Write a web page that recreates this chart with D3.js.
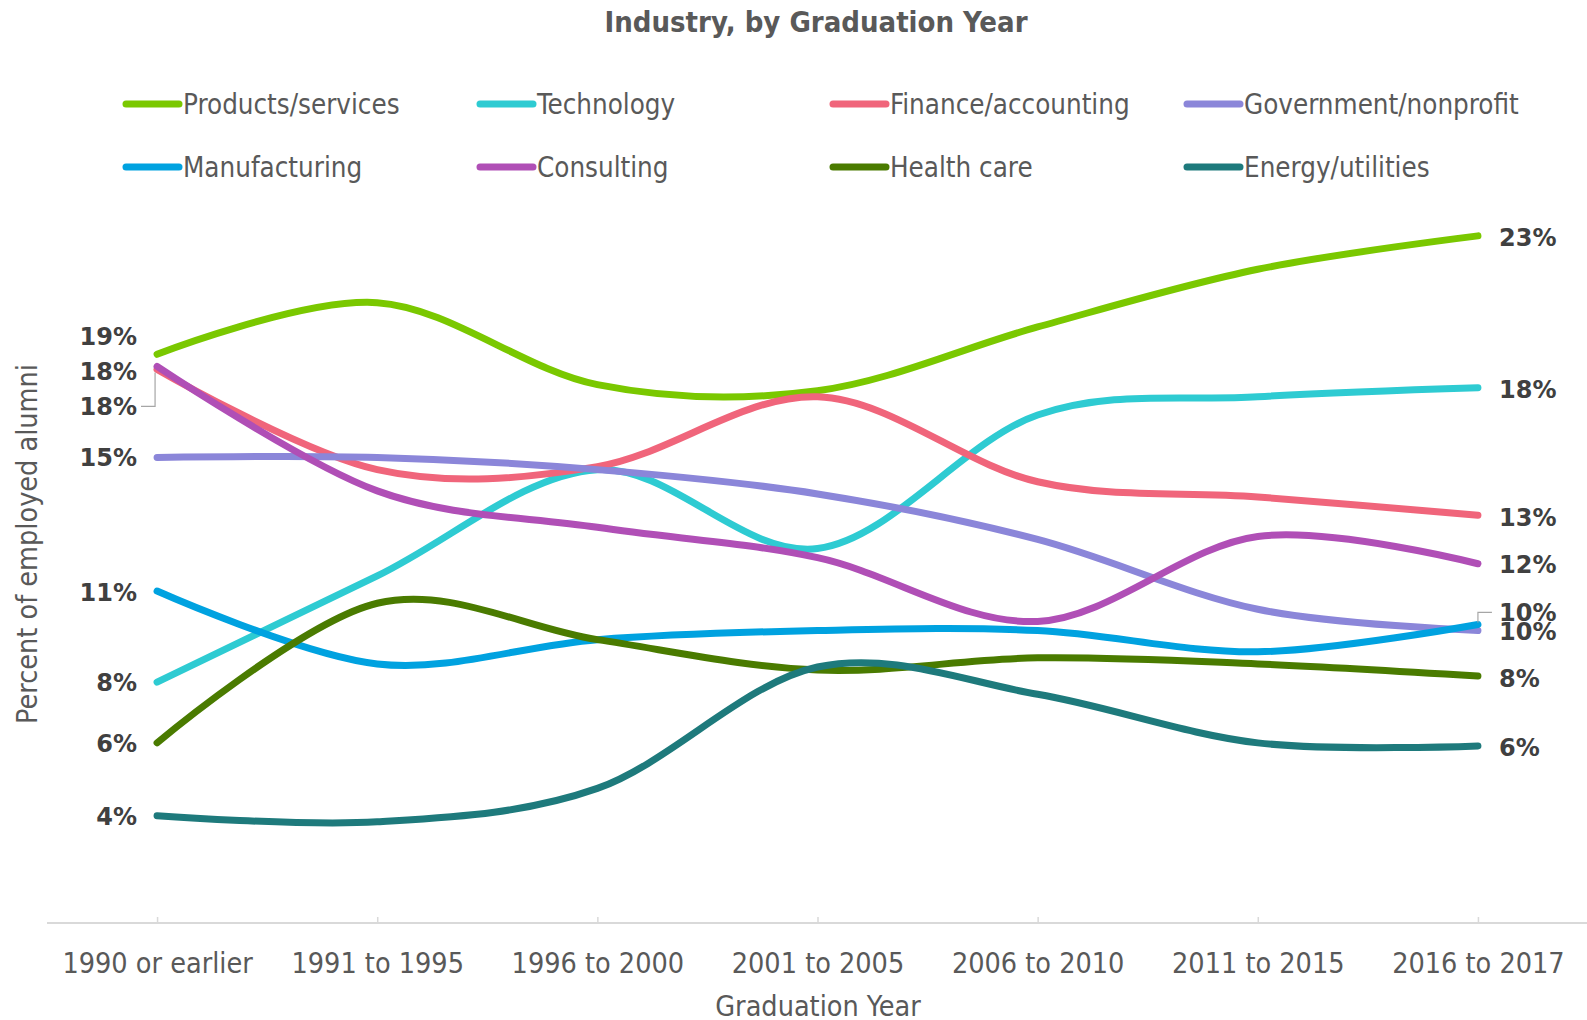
<!DOCTYPE html>
<html>
<head>
<meta charset="utf-8">
<script src="https://cdn.jsdelivr.net/npm/d3@7"></script>
<style>
  body { margin: 0; background: #fff; }
  svg text { font-family: "DejaVu Sans Condensed", "DejaVu Sans", sans-serif; }
</style>
</head>
<body>
<div id="chart"></div>
<script>
// ============================================================================
// DATA
// ============================================================================

const categories = ["1990 or earlier", "1991 to 1995", "1996 to 2000", "2001 to 2005",
                    "2006 to 2010", "2011 to 2015", "2016 to 2017"];

const seriesNames = ["Products/services", "Technology", "Finance/accounting", "Government/nonprofit",
                     "Manufacturing", "Consulting", "Health care", "Energy/utilities"];

const productsValues   = [18.7, 20.4, 17.7, 17.5, 19.6, 21.5, 22.6];
const technologyValues = [7.9, 11.4, 14.9, 12.3, 16.7, 17.3, 17.6];
const financeValues    = [18.2, 14.9, 15.0, 17.3, 14.5, 14.0, 13.4];
const governmentValues = [15.3, 15.3, 14.9, 14.1, 12.6, 10.3, 9.6];
const manufactValues   = [10.9, 8.5, 9.3, 9.6, 9.6, 8.9, 9.8];
const consultingValues = [18.3, 14.2, 13.0, 12.0, 9.9, 12.7, 11.8];
const healthValues     = [5.9, 10.5, 9.3, 8.3, 8.7, 8.5, 8.1];
const energyValues     = [3.5, 3.3, 4.4, 8.4, 7.5, 5.9, 5.8];

const seriesValues = [productsValues, technologyValues, financeValues, governmentValues,
                      manufactValues, consultingValues, healthValues, energyValues];

const colors = ["#7ac800", "#2ecbd2", "#f0657b", "#8b86d9",
                "#00a2e0", "#b04fb6", "#4a7b00", "#1e7a7c"];

// label nudges (px) for the end labels, where Excel moved them apart
//                  prod tech fin  gov  mfg  cons hlth enrg
const leftNudge  = [-18, 0,   37,  0,   1,   5,   0,   1];
const rightNudge = [1,   2,   2,   1,  -12,  1,   2,   1];
const leftLeader  = [false, false, true, false, false, false, false, false];
const rightLeader = [false, false, false, false, true, false, false, false];

const series = seriesNames.map((name, i) => ({
    name,
    color: colors[i],
    values: seriesValues[i].map((v, j) => ({ cat: categories[j], v }))
}));


// ============================================================================
// SETUP
// ============================================================================

const W = 1587, H = 1020;
const axisY = 923;

const svg = d3.select("#chart")
    .append("svg")
    .attr("width", W)
    .attr("height", H);

const x = d3.scalePoint()
    .domain(categories)
    .range([47, 1588])
    .padding(0.5);

const y = d3.scaleLinear()
    .domain([0, 25])
    .range([922, 922 - 25 * 30.36]);

svg.append("text")
    .attr("x", 816)
    .attr("y", 32)
    .attr("text-anchor", "middle")
    .style("font-size", "29px")
    .style("font-weight", "bold")
    .attr("fill", "#595959")
    .text("Industry, by Graduation Year");


// ============================================================================
// LEGEND
// ============================================================================

const legendCols = [123, 477, 830, 1184];
const legendRows = [104, 167];

const legend = svg.append("g").attr("class", "legend");

series.forEach((s, i) => {
    const lx = legendCols[i % 4];
    const ly = legendRows[Math.floor(i / 4)];
    legend.append("line")
        .attr("x1", lx + 3).attr("x2", lx + 56)
        .attr("y1", ly).attr("y2", ly)
        .attr("stroke", s.color)
        .attr("stroke-width", 7)
        .attr("stroke-linecap", "round");
    legend.append("text")
        .attr("x", lx + 60)
        .attr("y", ly)
        .attr("dy", "0.36em")
        .style("font-size", "27.5px")
        .attr("fill", "#595959")
        .text(s.name);
});


// ============================================================================
// AXES
// ============================================================================

const xAxis = svg.append("g")
    .attr("transform", `translate(0,${axisY})`)
    .call(d3.axisBottom(x).tickSize(-6).tickPadding(30));

xAxis.select(".domain").remove();
xAxis.append("line")
    .attr("x1", 47).attr("x2", 1587)
    .attr("stroke", "#d9d9d9")
    .attr("stroke-width", 2);
xAxis.selectAll(".tick line")
    .attr("stroke", "#d9d9d9")
    .attr("stroke-width", 1.5);
xAxis.selectAll(".tick text")
    .style("font-size", "28.5px")
    .style("font-family", "'DejaVu Sans Condensed', 'DejaVu Sans', sans-serif")
    .attr("fill", "#595959");

svg.append("text")
    .attr("x", 818)
    .attr("y", 1006)
    .attr("dy", "0.36em")
    .attr("text-anchor", "middle")
    .style("font-size", "28.5px")
    .attr("fill", "#595959")
    .text("Graduation Year");

svg.append("text")
    .attr("transform", "rotate(-90)")
    .attr("x", -544)
    .attr("y", 27)
    .attr("dy", "0.36em")
    .attr("text-anchor", "middle")
    .style("font-size", "28.5px")
    .attr("fill", "#595959")
    .text("Percent of employed alumni");


// ============================================================================
// LINES
// ============================================================================

const line = d3.line()
    .x(d => x(d.cat))
    .y(d => y(d.v))
    .curve(d3.curveCardinal.tension(0));

svg.append("g")
    .selectAll("path.series")
    .data(series)
    .join("path")
    .attr("class", "series")
    .attr("d", d => line(d.values))
    .attr("fill", "none")
    .attr("stroke", d => d.color)
    .attr("stroke-width", 7)
    .attr("stroke-linecap", "round")
    .attr("stroke-linejoin", "round");


// ============================================================================
// END LABELS
// ============================================================================

const fmt = v => `${Math.round(v)}%`;
const labels = svg.append("g").attr("class", "end-labels");
const firstX = x(categories[0]);
const lastX  = x(categories[categories.length - 1]);

series.forEach((s, i) => {
    const v0 = s.values[0].v;
    const v1 = s.values[s.values.length - 1].v;
    const ly0 = y(v0) + leftNudge[i];
    const ly1 = y(v1) + rightNudge[i];

    labels.append("text")
        .attr("x", 137)
        .attr("y", ly0)
        .attr("dy", "0.36em")
        .attr("text-anchor", "end")
        .style("font-family", "'DejaVu Sans', sans-serif")
        .style("font-size", "24px")
        .style("font-weight", "bold")
        .attr("fill", "#404040")
        .text(fmt(v0));

    labels.append("text")
        .attr("x", 1499)
        .attr("y", ly1)
        .attr("dy", "0.36em")
        .attr("text-anchor", "start")
        .style("font-family", "'DejaVu Sans', sans-serif")
        .style("font-size", "24px")
        .style("font-weight", "bold")
        .attr("fill", "#404040")
        .text(fmt(v1));

    if (leftLeader[i]) {
        labels.append("path")
            .attr("d", `M${141},${ly0} H${firstX - 2} V${y(v0) + 3}`)
            .attr("fill", "none")
            .attr("stroke", "#a6a6a6")
            .attr("stroke-width", 1.2);
    }
    if (rightLeader[i]) {
        labels.append("path")
            .attr("d", `M${lastX},${y(v1) - 2} V${ly1} H${lastX + 14}`)
            .attr("fill", "none")
            .attr("stroke", "#a6a6a6")
            .attr("stroke-width", 1.2);
    }
});
</script>
</body>
</html>
